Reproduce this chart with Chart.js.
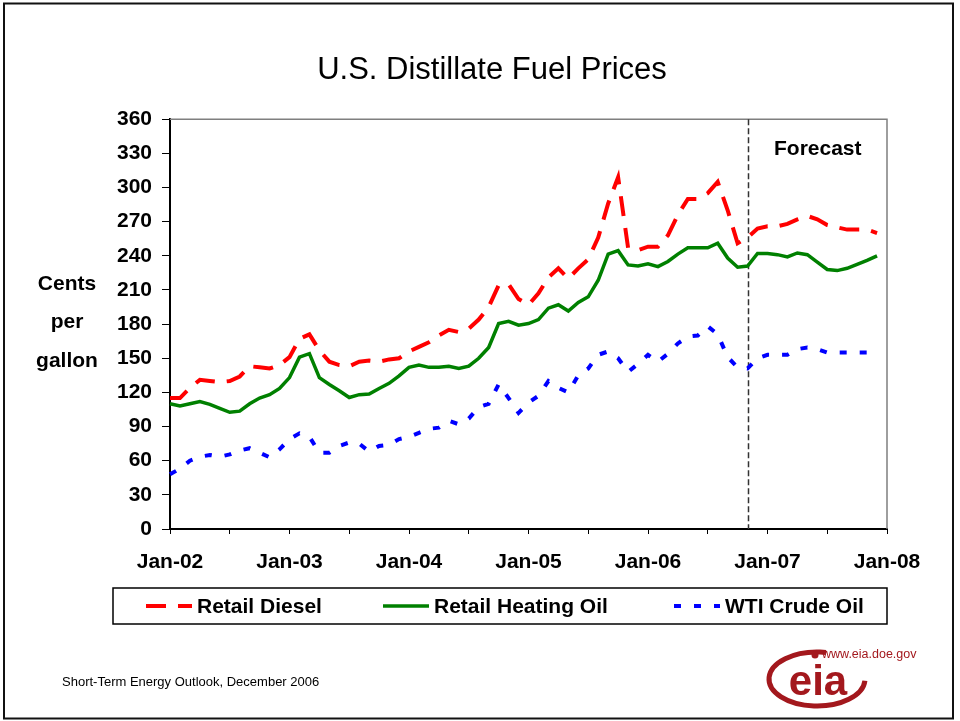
<!DOCTYPE html>
<html>
<head>
<meta charset="utf-8">
<title>U.S. Distillate Fuel Prices</title>
<script src="https://cdn.jsdelivr.net/npm/chart.js@4.4.0/dist/chart.umd.min.js"></script>
<style>
  html, body { margin: 0; padding: 0; background: #fff; }
  #wrap { position: relative; width: 960px; height: 721px; }
</style>
</head>
<body>
<div id="wrap"><canvas id="fuelChart"></canvas></div>
<script>
// Monthly prices, Jan-02 .. Dec-07, cents per gallon
const yearSuffixes = ['02', '03', '04', '05', '06', '07'];
const monthNames = ['Jan', 'Feb', 'Mar', 'Apr', 'May', 'Jun', 'Jul', 'Aug', 'Sep', 'Oct', 'Nov', 'Dec'];

const retailDiesel = [
    115, 115, 124, 131, 130, 129, 130, 134, 143, 142, 141, 144,
    151, 167, 171, 157, 147, 144, 143, 147, 148, 147, 149, 150,
    156, 160, 164, 170, 175, 173, 176, 184, 195, 214, 215, 202,
    197, 207, 221, 229, 220, 229, 237, 256, 286, 309, 247, 245,
    248, 248, 258, 276, 290, 290, 295, 305, 280, 251, 256, 264,
    266, 266, 268, 272, 275, 272, 267, 265, 263, 263, 263, 260
];
const retailHeatingOil = [
    110, 108, 110, 112, 109.5, 106, 102.5, 103.5, 110, 115, 118, 123.5,
    133, 151, 154, 133, 127, 121.5, 115.5, 118, 118.5, 123.5, 128, 134.5,
    142, 144, 142, 142, 143, 141, 143, 150, 159.5, 180.5, 182.5, 179,
    180.5, 184, 194, 197, 191.5, 199, 204, 218.5, 241.5, 244.5, 232, 231,
    233, 230.5, 235, 241.5, 247, 247, 247, 251, 238, 230, 231, 242,
    242, 241, 239, 242.5, 241, 234.5, 228, 227, 229, 232.5, 236, 240
];
const wtiCrude = [
    48, 53, 60, 63.5, 65, 63.5, 65.5, 69, 71, 67, 63, 70,
    79, 84, 81, 67, 67, 73, 76, 75, 68, 73, 74, 79,
    81, 84.5, 88, 89, 95, 92, 97, 107, 110, 127, 115, 102,
    111, 117, 130, 124, 120, 135, 141, 153, 156, 150, 138, 145,
    153, 147, 154, 163, 169, 170, 178, 171, 151, 142, 141, 150,
    153, 153, 153, 158, 159.5, 158, 155, 155, 155, 155, 155, 155
];
const yTicks = [0, 30, 60, 90, 120, 150, 180, 210, 240, 270, 300, 330, 360];
const forecastStart = 'Nov-06';

const months = [];
yearSuffixes.forEach(y => monthNames.forEach(m => months.push(m + '-' + y)));
months.push('Jan-08');

const FONT = "'Liberation Sans', Arial, sans-serif";

// things PowerPoint drew around the chart: frame, forecast divider, legend box, captions
const slideExtras = {
    id: 'slideExtras',
    beforeDraw(chart) {
        const ctx = chart.ctx;
        ctx.save();
        ctx.fillStyle = '#fff';
        ctx.fillRect(0, 0, chart.width, chart.height);
        ctx.restore();
    },
    beforeDatasetsDraw(chart) {
        const { ctx, chartArea: a, scales: { x } } = chart;
        ctx.save();
        ctx.strokeStyle = '#7f7f7f';
        ctx.lineWidth = 1.5;
        ctx.beginPath();
        ctx.moveTo(a.left, a.top);
        ctx.lineTo(a.right, a.top);
        ctx.lineTo(a.right, a.bottom);
        ctx.stroke();

        const fx = Math.round(x.getPixelForValue(months.indexOf(forecastStart))) + 0.5;
        ctx.strokeStyle = '#333';
        ctx.setLineDash([6, 3]);
        ctx.beginPath();
        ctx.moveTo(fx, a.top);
        ctx.lineTo(fx, a.bottom);
        ctx.stroke();
        ctx.setLineDash([]);

        ctx.fillStyle = '#000';
        ctx.font = 'bold 21px ' + FONT;
        ctx.textAlign = 'center';
        ctx.textBaseline = 'middle';
        ctx.fillText('Forecast', (fx + a.right) / 2, a.top + 30);
        ctx.restore();
    },
    afterDraw(chart) {
        const { ctx, chartArea: a } = chart;
        ctx.save();
        ctx.fillStyle = '#000';
        ctx.font = 'bold 21px ' + FONT;
        ctx.textAlign = 'center';
        ctx.textBaseline = 'middle';
        ['Cents', 'per', 'gallon'].forEach((t, i) => ctx.fillText(t, 67, 284 + i * 38.5));

        // legend
        const boxLeft = 113, boxTop = 588, boxBottom = 624;
        const cy = (boxTop + boxBottom) / 2;
        const sampleX = [146, 383, 674];
        ctx.strokeStyle = '#000';
        ctx.lineWidth = 1.5;
        ctx.strokeRect(boxLeft, boxTop, a.right - boxLeft, boxBottom - boxTop);
        ctx.textAlign = 'left';
        chart.data.datasets.forEach((ds, i) => {
            const sx = sampleX[i];
            ctx.strokeStyle = ds.borderColor;
            ctx.lineWidth = ds.borderWidth;
            ctx.setLineDash(ds.borderDash || []);
            ctx.beginPath();
            ctx.moveTo(sx, cy);
            ctx.lineTo(sx + 46, cy);
            ctx.stroke();
            ctx.setLineDash([]);
            ctx.fillStyle = '#000';
            ctx.fillText(ds.label, sx + 51, cy + 1);
        });

        // footer
        ctx.font = '13px ' + FONT;
        ctx.fillText('Short-Term Energy Outlook, December 2006', 62, 682);

        // eia logo
        const red = '#a3181d';
        ctx.strokeStyle = red;
        ctx.fillStyle = red;
        ctx.lineWidth = 5;
        ctx.beginPath();
        ctx.ellipse(817, 679, 48, 27, 0, 0.02 * Math.PI, 1.56 * Math.PI);
        ctx.stroke();
        ctx.beginPath();
        ctx.arc(815, 655, 3.5, 0, 2 * Math.PI);
        ctx.fill();
        ctx.font = 'bold 42px ' + FONT;
        ctx.textAlign = 'center';
        ctx.fillText('eia', 818, 683);
        ctx.font = '12.5px ' + FONT;
        ctx.textAlign = 'left';
        ctx.fillText('www.eia.doe.gov', 822, 655);

        // slide border
        ctx.strokeStyle = '#111';
        ctx.lineWidth = 2;
        ctx.strokeRect(4, 3.5, 949, 715);
        ctx.restore();
    }
};

const chart = new Chart(document.getElementById('fuelChart'), {
    type: 'line',
    data: {
        labels: months,
        datasets: [
            {
                label: 'Retail Diesel',
                data: retailDiesel,
                borderColor: '#ff0000',
                borderWidth: 4,
                borderDash: [20, 12],
                pointRadius: 0,
                fill: false
            },
            {
                label: 'Retail Heating Oil',
                data: retailHeatingOil,
                borderColor: '#008000',
                borderWidth: 3.5,
                pointRadius: 0,
                fill: false
            },
            {
                label: 'WTI Crude Oil',
                data: wtiCrude,
                borderColor: '#0000ff',
                borderWidth: 4,
                borderDash: [7, 13],
                pointRadius: 0,
                fill: false
            }
        ]
    },
    options: {
        responsive: true,
        maintainAspectRatio: false,
        animation: false,
        layout: { padding: { left: 97, right: 73, top: 0, bottom: 0 } },
        plugins: {
            legend: { display: false },
            tooltip: { enabled: false },
            title: {
                display: true,
                text: 'U.S. Distillate Fuel Prices',
                color: '#000',
                font: { family: FONT, size: 31, weight: 'normal' },
                padding: { top: 52, bottom: 30 }
            }
        },
        scales: {
            x: {
                type: 'category',
                offset: false,
                afterFit: s => { s.height = 192; },
                grid: {
                    drawOnChartArea: false,
                    tickLength: 5,
                    color: c => (c.index % 6 === 0 ? '#000' : 'rgba(0,0,0,0)')
                },
                border: { color: '#000', width: 2 },
                ticks: {
                    autoSkip: false,
                    maxRotation: 0,
                    padding: 16,
                    color: '#000',
                    font: { family: FONT, size: 21, weight: 'bold' },
                    callback: function (v, i) { return i % 12 === 0 ? this.getLabelForValue(v) : ''; }
                }
            },
            y: {
                min: 0,
                max: 360,
                afterFit: s => { s.width = 73; },
                afterBuildTicks: s => { s.ticks = yTicks.map(v => ({ value: v })); },
                grid: { drawOnChartArea: false, tickLength: 8, color: '#000' },
                border: { color: '#000', width: 2 },
                ticks: {
                    padding: 10,
                    color: '#000',
                    font: { family: FONT, size: 21, weight: 'bold' }
                }
            }
        }
    },
    plugins: [slideExtras]
});
</script>
</body>
</html>
